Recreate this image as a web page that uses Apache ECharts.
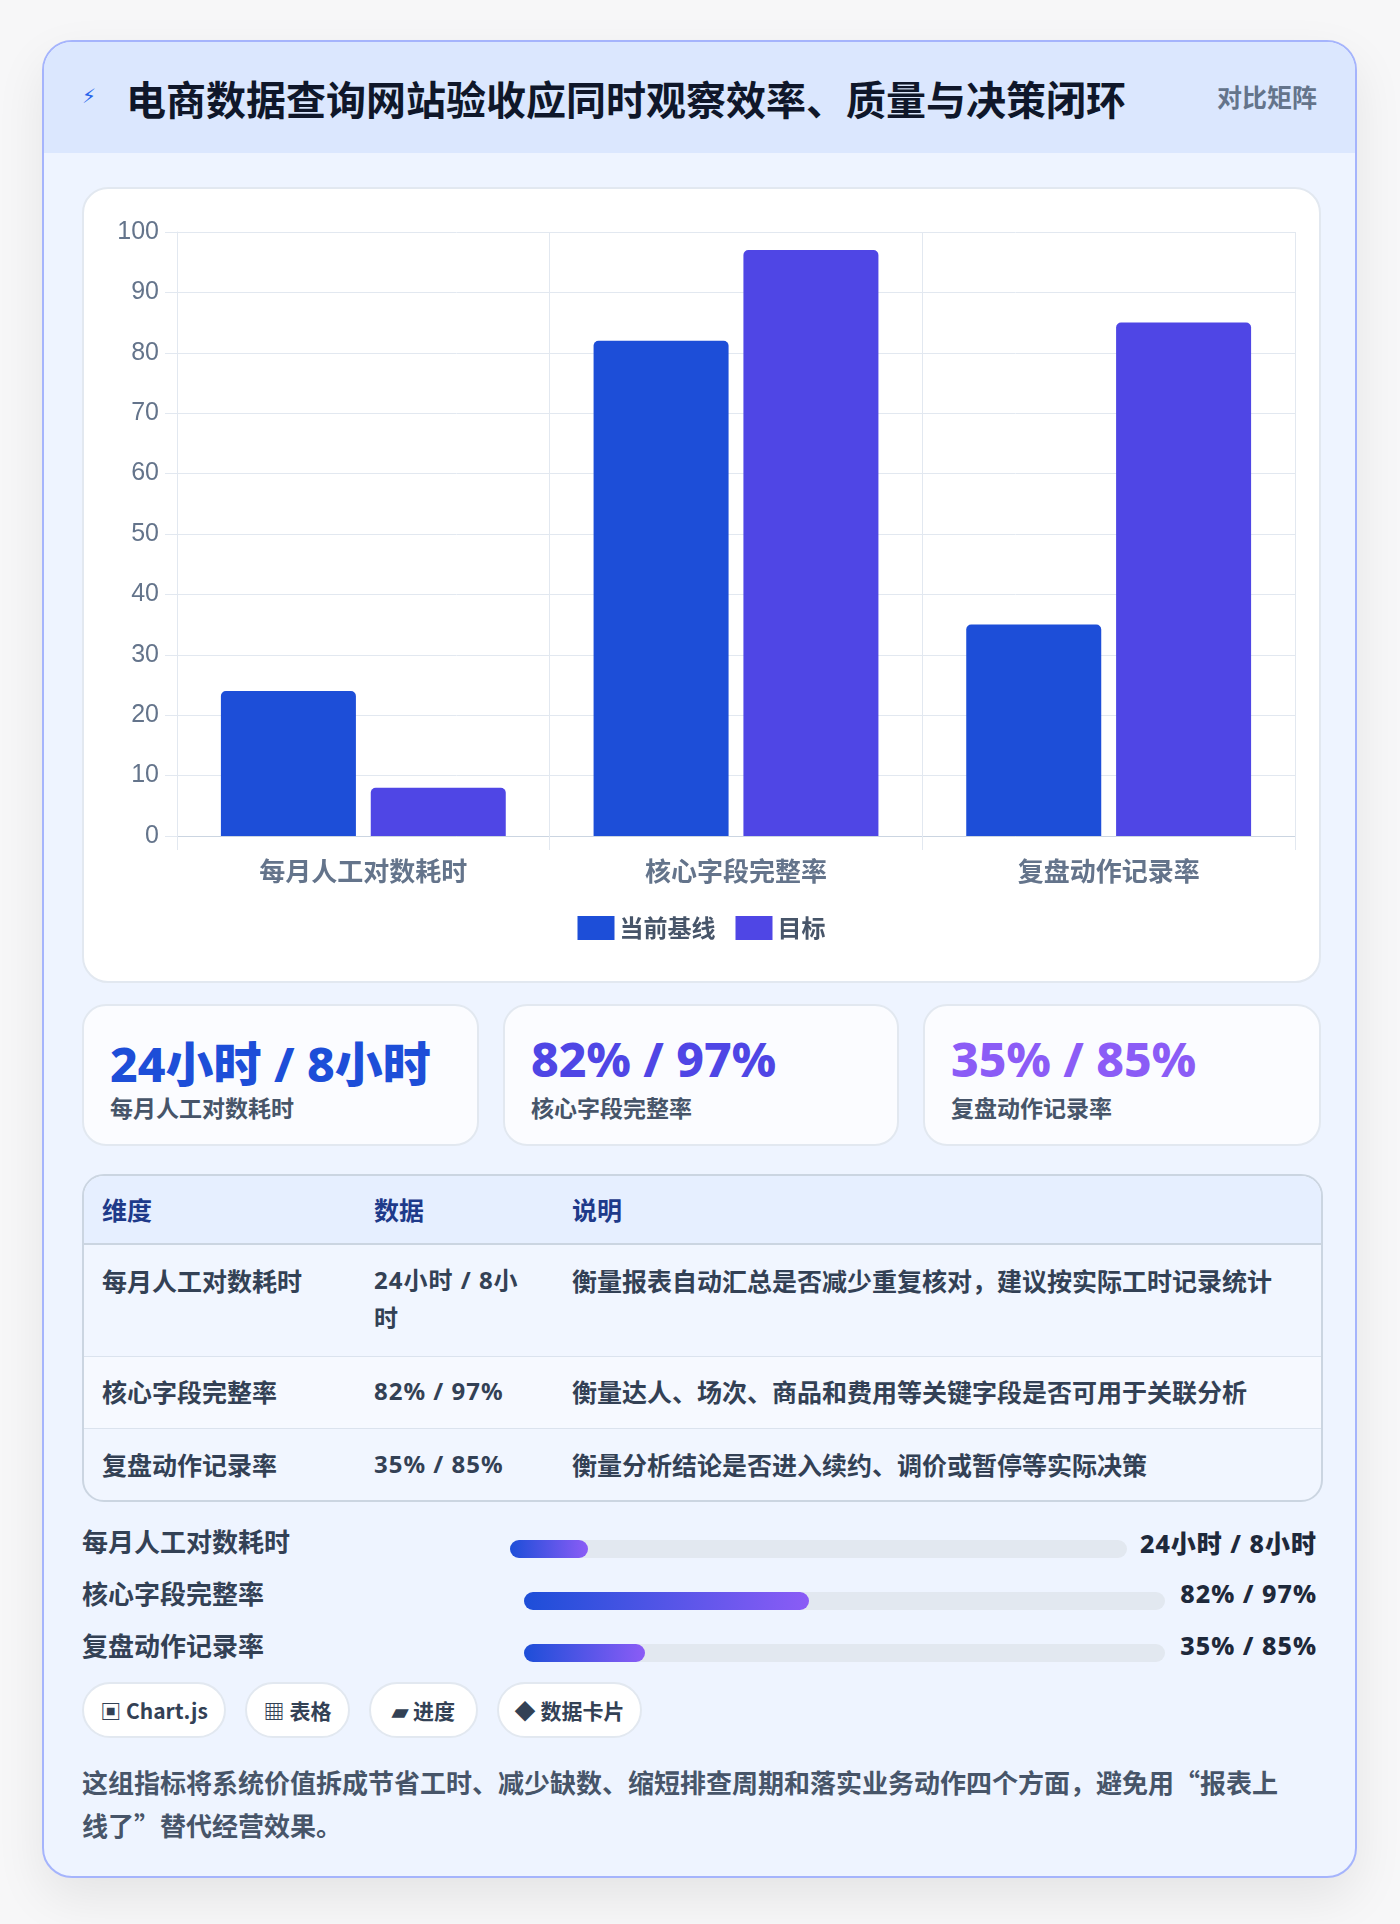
<!DOCTYPE html>
<html><head><meta charset="utf-8">
<script src="https://cdn.jsdelivr.net/npm/echarts@6/dist/echarts.min.js"></script>
<style>
*{box-sizing:border-box;margin:0;padding:0}
body{width:1400px;height:1924px;background:#f7f7f8;font-family:"Noto Sans CJK SC","Noto Sans",sans-serif;position:relative;overflow:hidden}
.card{position:absolute;left:42px;top:40px;width:1315px;height:1838px;background:#eef4ff;border:2px solid #a5b4fc;border-radius:30px;box-shadow:0 20px 50px rgba(0,0,0,0.08);overflow:hidden}
.head{position:absolute;left:0;top:0;width:100%;height:111px;background:#dbe7fe}
.title{position:absolute;left:82px;top:27px;font-size:40px;font-weight:700;color:#0f172a;white-space:nowrap}
.icon{position:absolute;left:38px;top:42px;font-size:20px;color:#2563eb;font-family:"DejaVu Sans"}
.tag{position:absolute;right:38px;top:36px;font-size:25px;font-weight:700;color:#64748b}
.abs{position:absolute}
.white{background:#fff;border:2px solid #e2e8f0;border-radius:26px}
.stat{background:#fbfcff;border:2px solid #e2e8f0;border-radius:24px}
.big{position:absolute;left:26px;top:20px;font-size:48px;font-weight:800;white-space:nowrap;font-family:"Noto Sans","Noto Sans CJK SC",sans-serif}
.sl{position:absolute;left:26px;top:84px;font-size:23px;font-weight:700;color:#475569}
.tbl{position:absolute;left:38px;top:1132px;width:1241px;height:328px;border:2px solid #cbd5e1;border-radius:22px;overflow:hidden;background:#f1f6ff}
.cell{position:absolute;font-size:25px;font-weight:700;color:#334155;line-height:38px}
.hd{color:#1e3a8a}
.pl{position:absolute;left:38px;font-size:26px;font-weight:700;color:#334155}
.track{position:absolute;height:18px;border-radius:9px;background:#e2e8f0}
.fill{height:18px;border-radius:9px;background:linear-gradient(90deg,#1d4ed8,#8b5cf6)}
.pv{position:absolute;right:38px;font-size:25px;font-weight:800;color:#1e293b;letter-spacing:1px;font-family:"Noto Sans","Noto Sans CJK SC",sans-serif}
.chip{position:absolute;top:1640px;height:56px;border:2px solid #e2e8f0;border-radius:28px;background:#fff;font-size:21px;font-weight:700;color:#334155;line-height:52px;text-align:center}
.foot{position:absolute;left:38px;top:1718px;width:1212px;font-size:26px;font-weight:700;color:#475569;line-height:43px}
</style></head><body>
<div class="card">
 <div class="head"><span class="icon">⚡</span><div class="title" id="title"></div><div class="tag">对比矩阵</div></div>
 <div class="abs white" style="left:38px;top:145px;width:1239px;height:796px"></div>
 <div id="chart" class="abs" style="left:38px;top:145px;width:1239px;height:796px"></div>
 <div id="stats"></div>
 <div class="tbl" id="tbl"></div>
 <div id="prog"></div>
 <div id="chips"></div>
 <div class="foot" id="foot"></div>
</div>
<script>
const titleText="电商数据查询网站验收应同时观察效率、质量与决策闭环";
const categories=["每月人工对数耗时","核心字段完整率","复盘动作记录率"];
const baseline=[24,82,35];
const target=[8,97,85];
const seriesNames=["当前基线","目标"];
const yTicks=[0,10,20,30,40,50,60,70,80,90,100];
const statTexts=["24小时 / 8小时","82% / 97%","35% / 85%"];
const statColors=["#1d4ed8","#4f46e5","#8b5cf6"];
const notes=["衡量报表自动汇总是否减少重复核对，建议按实际工时记录统计","衡量达人、场次、商品和费用等关键字段是否可用于关联分析","衡量分析结论是否进入续约、调价或暂停等实际决策"];
const progressFill=[12.6,44.5,18.8];
const chips=["▣ Chart.js","▦ 表格","▰ 进度","◆ 数据卡片"];
const footText="这组指标将系统价值拆成节省工时、减少缺数、缩短排查周期和落实业务动作四个方面，避免用“报表上线了”替代经营效果。";

document.getElementById('title').textContent=titleText;
document.getElementById('foot').textContent=footText;

const statPos=[[38,397],[459,396],[879,398]];
let sh='';
statPos.forEach((p,i)=>{sh+=`<div class="abs stat" style="left:${p[0]}px;top:962px;width:${p[1]}px;height:142px"><div class="big" style="color:${statColors[i]}">${statTexts[i]}</div><div class="sl">${categories[i]}</div></div>`;});
document.getElementById('stats').innerHTML=sh;

const rowsTop=[0,69,180,253,328];
let th=`<div class="abs" style="left:0;top:0;width:100%;height:69px;background:#e6efff;border-bottom:2px solid #cbd5e1"></div>`;
th+=`<div class="abs" style="left:0;top:180px;width:100%;height:73px;background:#f6f9ff;border-top:1px solid #dbe3ee;border-bottom:1px solid #dbe3ee"></div>`;
const cols=[18,290,488];
["维度","数据","说明"].forEach((h,j)=>{th+=`<div class="cell hd" style="left:${cols[j]}px;top:14px">${h}</div>`;});
categories.forEach((c,i)=>{
 const t=rowsTop[i+1]+16;
 th+=`<div class="cell" style="left:${cols[0]}px;top:${t}px">${c}</div>`;
 th+=`<div class="cell" style="left:${cols[1]}px;top:${t}px;width:160px;font-family:'Noto Sans','Noto Sans CJK SC';font-size:24px;letter-spacing:1px">${statTexts[i]}</div>`;
 th+=`<div class="cell" style="left:${cols[2]}px;top:${t}px;white-space:nowrap">${notes[i]}</div>`;
});
document.getElementById('tbl').innerHTML=th;

const pRows=[{top:1480,l:466,w:617},{top:1532,l:480,w:641},{top:1584,l:480,w:641}];
let ph='';
pRows.forEach((r,i)=>{
 ph+=`<div class="pl" style="top:${r.top}px">${categories[i]}</div>`;
 ph+=`<div class="track" style="left:${r.l}px;top:${r.top+18}px;width:${r.w}px"><div class="fill" style="width:${progressFill[i]}%"></div></div>`;
 ph+=`<div class="pv" style="top:${r.top+2}px">${statTexts[i]}</div>`;
});
document.getElementById('prog').innerHTML=ph;

const chipPos=[[38,144],[201,105],[325,109],[453,145]];
let ch='';
chips.forEach((c,i)=>{ch+=`<div class="chip" style="left:${chipPos[i][0]}px;width:${chipPos[i][1]}px">${c}</div>`;});
document.getElementById('chips').innerHTML=ch;

const chart=echarts.init(document.getElementById('chart'));
chart.setOption({
 animation:false,
 textStyle:{fontFamily:'"Noto Sans CJK SC","Noto Sans",sans-serif'},
 grid:{left:95,right:26,top:45,bottom:147},
 legend:{top:724,left:'center',itemWidth:37,itemHeight:24,itemGap:20,icon:'rect',
   textStyle:{fontSize:24,fontWeight:'bold',color:'#475569'},data:seriesNames},
 xAxis:{type:'category',data:categories,
   axisLine:{lineStyle:{color:'#cbd5e1'}},
   axisTick:{show:true,length:14,lineStyle:{color:'#e2e8f0'}},
   splitLine:{show:true,lineStyle:{color:'#e2e8f0'}},
   axisLabel:{fontSize:26,fontWeight:'bold',color:'#64748b',margin:22}},
 yAxis:{type:'value',min:yTicks[0],max:yTicks[yTicks.length-1],interval:10,
   axisLine:{show:true,lineStyle:{color:'#e2e8f0'}},
   axisTick:{show:true,length:12,lineStyle:{color:'#e2e8f0'}},
   splitLine:{lineStyle:{color:'#e2e8f0'}},
   axisLabel:{fontSize:25,color:'#64748b',margin:18,fontFamily:'"Liberation Sans",Arial'}},
 series:[
  {name:seriesNames[0],type:'bar',data:baseline,barWidth:135,barGap:'11%',itemStyle:{color:'#1d4ed8',borderRadius:[5,5,0,0]}},
  {name:seriesNames[1],type:'bar',data:target,barWidth:135,itemStyle:{color:'#4f46e5',borderRadius:[5,5,0,0]}}
 ]
});
</script>
</body></html>
